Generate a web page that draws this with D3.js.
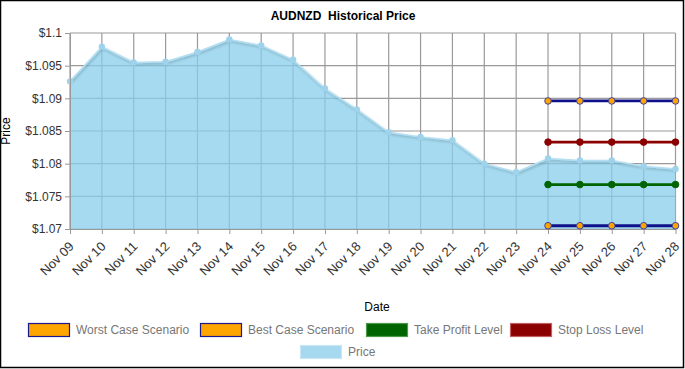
<!DOCTYPE html>
<html><head><meta charset="utf-8">
<script src="https://cdn.jsdelivr.net/npm/d3@7"></script>
<style>
html,body{margin:0;padding:0;background:#fff;}
svg{display:block;font-family:"Liberation Sans",Arial,sans-serif;}
</style></head>
<body>
<svg id="chart" width="685" height="369"></svg>
<script>
const dates = ["Nov 09","Nov 10","Nov 11","Nov 12","Nov 13","Nov 14","Nov 15","Nov 16","Nov 17","Nov 18","Nov 19","Nov 20","Nov 21","Nov 22","Nov 23","Nov 24","Nov 25","Nov 26","Nov 27","Nov 28"];
const price = [1.0926,1.0979,1.0955,1.0956,1.0971,1.0990,1.0981,1.0959,1.0915,1.0883,1.0848,1.0841,1.0836,1.0800,1.0787,1.0808,1.0805,1.0805,1.0796,1.0792];
const levelDates = ["Nov 24","Nov 25","Nov 26","Nov 27","Nov 28"];
const bestCase = [1.0896,1.0896,1.0896,1.0896,1.0896];
const stopLoss = [1.0833,1.0833,1.0833,1.0833,1.0833];
const takeProfit = [1.0768,1.0768,1.0768,1.0768,1.0768];
const worstCase = [1.0705,1.0705,1.0705,1.0705,1.0705];
const yTicks = [1.07,1.075,1.08,1.085,1.09,1.095,1.1];
const legendItems = [
  {name:"Worst Case Scenario", fill:"#FFA500", stroke:"#1a1a8c"},
  {name:"Best Case Scenario", fill:"#FFA500", stroke:"#1a1a8c"},
  {name:"Take Profit Level", fill:"#006400", stroke:"#4a9a4a"},
  {name:"Stop Loss Level", fill:"#8B0000", stroke:"#c06060"},
  {name:"Price", fill:"#a6d8f0", stroke:"#c8e6f4"}
];

const svg = d3.select("#chart");
const L = 70, R = 675.5, T = 33, B = 229;
const x = d3.scalePoint().domain(dates).range([L, R]);
const y = d3.scaleLinear().domain([1.07, 1.1]).range([B, T]);

// border
svg.append("rect").attr("x",0.5).attr("y",0.5).attr("width",683).attr("height",367)
  .attr("fill","#fff").attr("stroke","#000").attr("stroke-width",1.5);

const defs = svg.append("defs");
const f = defs.append("filter").attr("id","shadow").attr("x","-10%").attr("y","-10%").attr("width","120%").attr("height","130%");
f.append("feDropShadow").attr("dx",1).attr("dy",1.5).attr("stdDeviation",1.2).attr("flood-color","#000").attr("flood-opacity",0.25);

// grid
const grid = svg.append("g");
grid.selectAll("line.h").data(yTicks).join("line")
  .attr("x1",L).attr("x2",R).attr("y1",d=>y(d)).attr("y2",d=>y(d))
  .attr("stroke","#9a9a9a").attr("stroke-width",1.2);
grid.selectAll("line.v").data(dates).join("line")
  .attr("x1",d=>x(d)).attr("x2",d=>x(d)).attr("y1",T).attr("y2",B)
  .attr("stroke","#9a9a9a").attr("stroke-width",1.2);

// area
const area = d3.area().x((d,i)=>x(dates[i])).y0(B).y1(d=>y(d));
svg.append("path").datum(price).attr("d",area)
  .attr("fill","#87CEEB").attr("fill-opacity",0.75);
const line = d3.line().x((d,i)=>x(dates[i])).y(d=>y(d));
svg.append("path").datum(price).attr("d",line)
  .attr("fill","none").attr("stroke","#b4def2").attr("stroke-width",1.5).attr("filter","url(#shadow)");
svg.append("g").selectAll("circle").data(price).join("circle")
  .attr("cx",(d,i)=>x(dates[i])).attr("cy",d=>y(d)).attr("r",3.2)
  .attr("fill","#9fd3ec");

// axes
const xAxis = svg.append("g").attr("transform",`translate(0,${B})`)
  .call(d3.axisBottom(x).tickSize(5).tickSizeOuter(0));
xAxis.select(".domain").attr("stroke","#999");
xAxis.selectAll(".tick line").attr("stroke","#999");
xAxis.selectAll("text").attr("fill","#333").style("font-size","13px")
  .attr("text-anchor","end").attr("x",0).attr("y",0).attr("dy","0.35em")
  .attr("transform","translate(1,15) rotate(-45)");

const yAxis = svg.append("g").attr("transform",`translate(${L},0)`)
  .call(d3.axisLeft(y).tickValues(yTicks).tickFormat(d=>"$"+d3.format("")(+d.toFixed(3))).tickSize(5).tickSizeOuter(0));
yAxis.select(".domain").attr("stroke","#999");
yAxis.selectAll(".tick line").attr("stroke","#999");
yAxis.selectAll("text").attr("fill","#333").style("font-size","12px");

// level lines
function level(vals, color, mfill, mstroke){
  const g = svg.append("g");
  g.append("path").datum(vals)
    .attr("d", d3.line().x((d,i)=>x(levelDates[i])).y(d=>y(d)))
    .attr("fill","none").attr("stroke",color).attr("stroke-width",2.8);
  g.selectAll("circle").data(vals).join("circle")
    .attr("cx",(d,i)=>x(levelDates[i])).attr("cy",d=>y(d)).attr("r",3.3)
    .attr("fill",mfill).attr("stroke",mstroke).attr("stroke-width",1);
}
level(bestCase,"#10108a","#FFA500","#4040a0");
level(stopLoss,"#8B0000","#8B0000","#8B0000");
level(takeProfit,"#006400","#006400","#006400");
level(worstCase,"#10108a","#FFA500","#4040a0");

// title & labels
svg.append("text").attr("x",343).attr("y",20).attr("text-anchor","middle")
  .style("font-size","12px").style("font-weight","bold").attr("fill","#000")
  .attr("xml:space","preserve").text("AUDNZD  Historical Price");
svg.append("text").attr("transform","translate(10,131) rotate(-90)").attr("text-anchor","middle")
  .style("font-size","12px").attr("fill","#000").text("Price");
svg.append("text").attr("x",377).attr("y",311).attr("text-anchor","middle")
  .style("font-size","12px").attr("fill","#000").text("Date");

// legend
const legPos = [[28,323],[200,323],[366,323],[510,323],[300,345]];
const lg = svg.append("g");
legendItems.forEach((it,i)=>{
  const [lx,ly] = legPos[i];
  lg.append("rect").attr("x",lx+0.5).attr("y",ly+0.5).attr("width",41).attr("height",13)
    .attr("fill",it.fill).attr("stroke",it.stroke).attr("stroke-width",1.2);
  lg.append("text").attr("x",lx+48).attr("y",ly+11).style("font-size","12px")
    .attr("fill","#777").text(it.name);
});
</script>
</body></html>
